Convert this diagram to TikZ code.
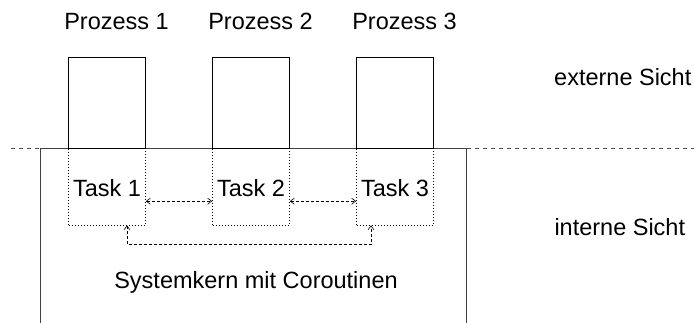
\documentclass[tikz,border=0pt]{standalone}
\usepackage{fontspec}
\setmainfont{Liberation Sans}
\usetikzlibrary{arrows.meta}
\tikzstyle{prozess}=[rectangle, draw=black, line width=0.7pt, minimum width=77pt, minimum height=91pt, inner sep=0pt]
\tikzstyle{task}=[rectangle, draw=black, line width=0.7pt, dash pattern=on 1pt off 2pt, minimum width=77pt, minimum height=76.7pt, inner sep=0pt, font=\fontsize{23.5}{28}\selectfont]
\tikzstyle{txt}=[inner sep=0pt, font=\fontsize{23.5}{28}\selectfont]
\tikzstyle{link}=[draw=black, line width=0.6pt, dash pattern=on 3pt off 2pt, {Straight Barb[length=4pt,width=6pt]}-{Straight Barb[length=4pt,width=6pt]}]
\tikzstyle{kern}=[draw=black!75, line width=1pt]
\tikzstyle{grenze}=[draw=black!70, line width=0.8pt, dash pattern=on 4pt off 4pt]

\begin{document}
\begin{tikzpicture}[x=1pt, y=-1pt]
	\useasboundingbox (0,0) rectangle (694,322);
	% Sichtgrenze
	\coordinate (gl) at (11,148.3);
	\coordinate (gr) at (694,148.3);
	\draw [style=grenze] (gl) to (gr);
	% Systemkern
	\draw [style=kern] (40,330) |- (466.7,148.3) -- (466.7,330);
	\node [style=txt, anchor=base] (kern) at (256,288.3) {Systemkern mit Coroutinen};
	% Prozesse
	\node [style=prozess] (p1) at (107,102.8) {};
	\node [style=prozess] (p2) at (251,102.8) {};
	\node [style=prozess] (p3) at (395,102.8) {};
	\node [style=txt, anchor=base] (n1) at (116.5,29.3) {Prozess 1};
	\node [style=txt, anchor=base] (n2) at (260.5,29.3) {Prozess 2};
	\node [style=txt, anchor=base] (n3) at (404.5,29.3) {Prozess 3};
	% Tasks
	\node [style=task] (t1) at (107,186.7) {};
	\node [style=task] (t2) at (251,186.7) {};
	\node [style=task] (t3) at (395,186.7) {};
	\node [style=txt, anchor=base] (k1) at (107,196.7) {Task 1};
	\node [style=txt, anchor=base] (k2) at (251,196.7) {Task 2};
	\node [style=txt, anchor=base] (k3) at (395,196.7) {Task 3};
	% Coroutinen-Wechsel
	\draw [style=link] ([yshift=-14.5pt]t1.east) to ([yshift=-14.5pt]t2.west);
	\draw [style=link] ([yshift=-14.5pt]t2.east) to ([yshift=-14.5pt]t3.west);
	\draw [style=link] ([xshift=20pt]t1.south) -- ++(0,19.3) -| ([xshift=-24pt]t3.south);
	% Sichten
	\node [style=txt, anchor=base west] (ext) at (554,85) {externe Sicht};
	\node [style=txt, anchor=base west] (int) at (554.3,235) {interne Sicht};
\end{tikzpicture}
\end{document}
